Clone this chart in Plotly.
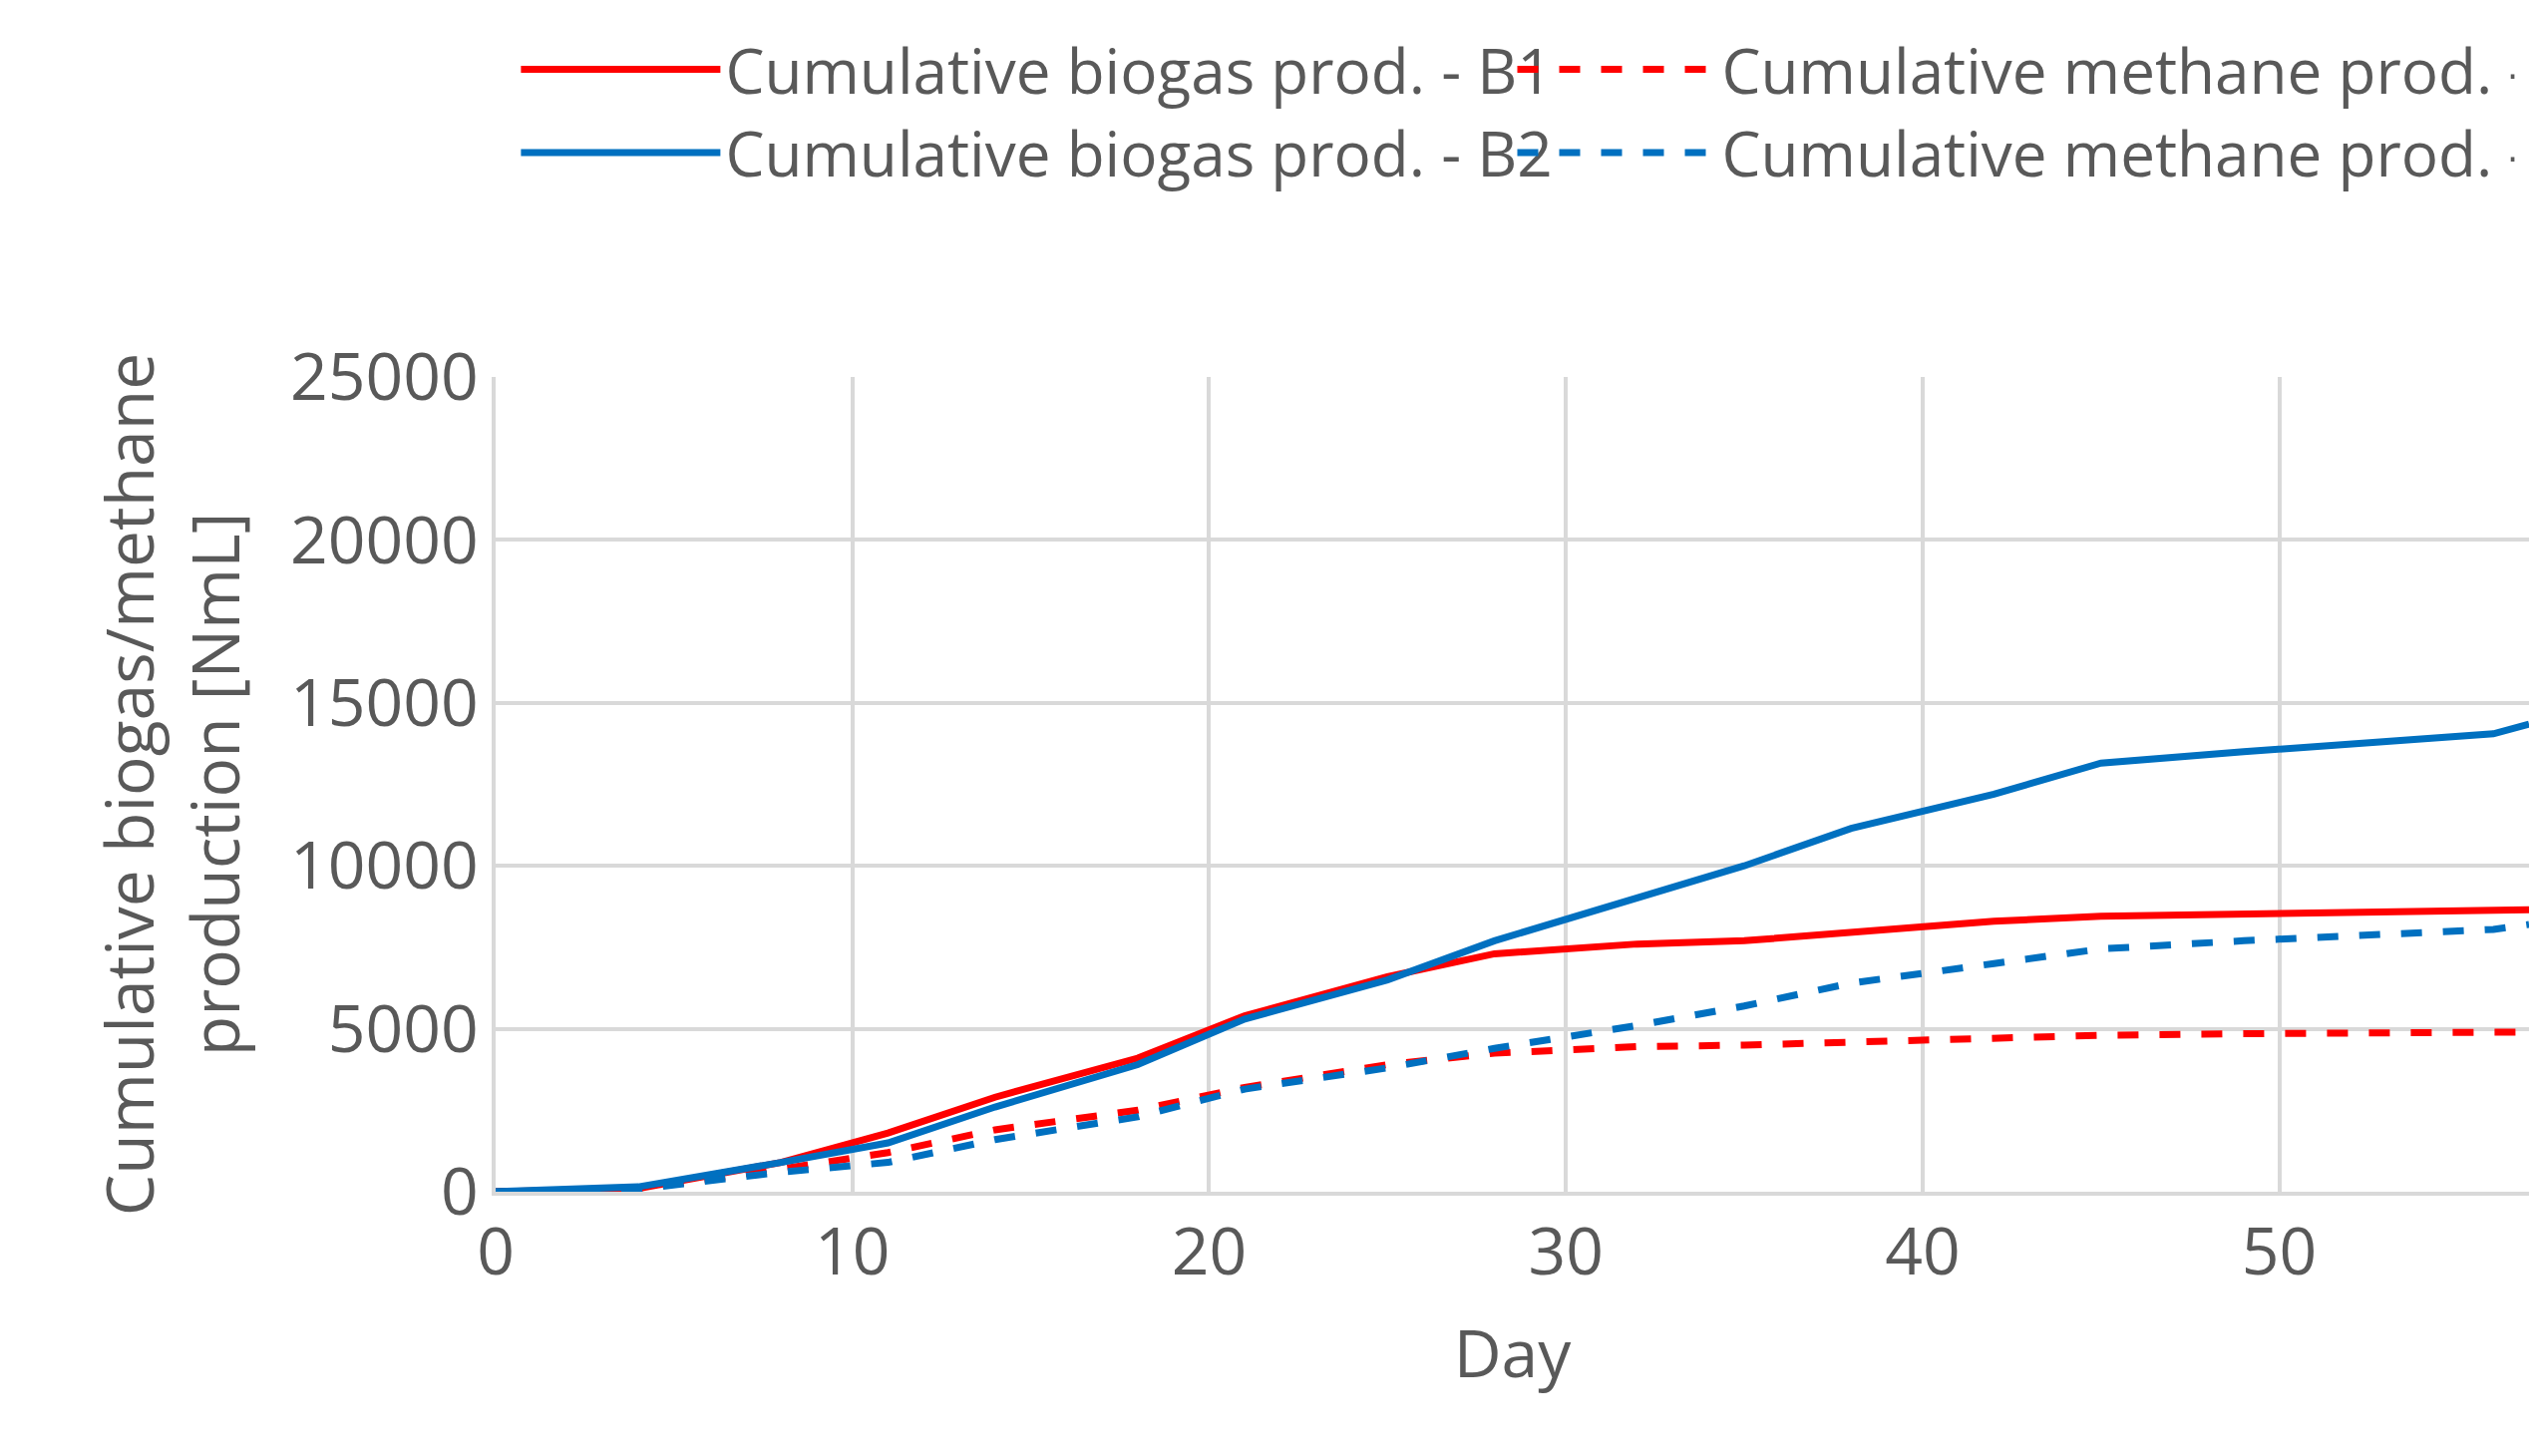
import plotly.graph_objects as go

days_b1 = [0, 4, 8, 11, 14, 18, 21, 25, 28, 32, 35, 38, 42, 45, 49, 57]
biogas_b1 = [0, 100, 900, 1800, 2900, 4100, 5400, 6600, 7300, 7600, 7700, 7950, 8300, 8450, 8500, 8650]
methane_b1 = [0, 80, 700, 1200, 1900, 2500, 3200, 3900, 4250, 4450, 4500, 4600, 4750, 4800, 4850, 4900]

days_b2 = [0, 4, 8, 11, 14, 18, 21, 25, 28, 32, 35, 38, 42, 45, 49, 56, 57]
biogas_b2 = [0, 150, 900, 1500, 2600, 3900, 5300, 6500, 7700, 9000, 10000, 11150, 12200, 13150, 13500, 14050, 14350]
methane_b2 = [0, 80, 600, 900, 1600, 2300, 3150, 3800, 4400, 5100, 5700, 6400, 7000, 7450, 7700, 8050, 8200]

RED = '#ff0000'
BLUE = '#0070c0'
FONT = 'Open Sans'

fig = go.Figure()
fig.add_trace(go.Scatter(x=days_b1, y=biogas_b1, mode='lines', name='Cumulative biogas prod. - B1',
                         line=dict(color=RED, width=7)))
fig.add_trace(go.Scatter(x=days_b1, y=methane_b1, mode='lines', name='Cumulative methane prod. - B1',
                         line=dict(color=RED, width=7, dash='dash')))
fig.add_trace(go.Scatter(x=days_b2, y=biogas_b2, mode='lines', name='Cumulative biogas prod. - B2',
                         line=dict(color=BLUE, width=7)))
fig.add_trace(go.Scatter(x=days_b2, y=methane_b2, mode='lines', name='Cumulative methane prod. - B2',
                         line=dict(color=BLUE, width=7, dash='dash')))

fig.update_layout(
    width=2544, height=1460,
    paper_bgcolor='white', plot_bgcolor='white',
    font=dict(family=FONT, size=66, color='#595959'),
    margin=dict(l=489, r=16, t=370, b=273),
    legend=dict(orientation='h', x=0.01, y=0.99, yref='container', xanchor='left', yanchor='top',
                font=dict(size=62), itemwidth=200, tracegroupgap=0,
                entrywidth=0.49, entrywidthmode='fraction'),
)
fig.update_xaxes(range=[0, 57], dtick=10, showgrid=True, gridcolor='#d9d9d9', gridwidth=4,
                 showline=True, linecolor='#d9d9d9', linewidth=4, zeroline=False, ticks='',
                 title=dict(text='Day', font=dict(size=66), standoff=40))
fig.update_yaxes(range=[0, 25000], dtick=5000, tickformat='d', showgrid=True, gridcolor='#d9d9d9', gridwidth=4,
                 showline=True, linecolor='#d9d9d9', linewidth=4, zeroline=False, ticks='',
                 title=dict(text='Cumulative biogas/methane<br>production [NmL]', font=dict(size=66), standoff=30))

fig.write_html('out.html')
